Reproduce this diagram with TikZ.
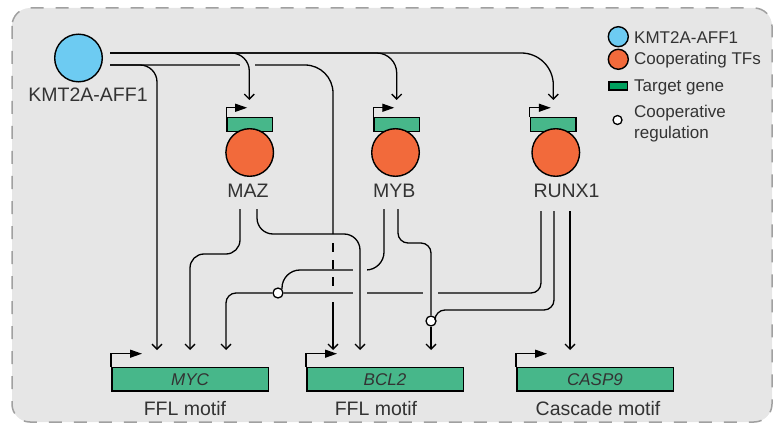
\documentclass[tikz,border=0pt]{standalone}
\usepackage{fontspec}
\setmainfont{Liberation Sans}
\usetikzlibrary{arrows.meta}

\definecolor{fond}{HTML}{E6E6E6}
\definecolor{bord}{HTML}{A0A0A0}
\definecolor{bleuK}{HTML}{6DCBF2}
\definecolor{orangeTF}{HTML}{F26A3B}
\definecolor{vertG}{HTML}{47B78A}
\definecolor{vertL}{HTML}{00A05E}
\definecolor{texte}{HTML}{333333}

\newcommand{\fontA}{\fontsize{19.5}{22}\selectfont}
\newcommand{\fontB}{\fontsize{17}{20}\selectfont}

\begin{document}
\begin{tikzpicture}[x=1pt,y=-1pt,
  fil/.style={line width=1.3pt},
  fleche/.style={fil,-{Straight Barb[length=5pt,width=10pt]}},
  promoteur/.style={line width=1.3pt,-{Triangle[length=12pt,width=8pt]}},
  cercle/.style={circle,draw,line width=1.4pt,inner sep=0pt,minimum size=47.6pt},
  boite/.style={draw,line width=1.5pt,fill=vertG,inner sep=0pt},
  coop/.style={circle,draw,line width=1.3pt,fill=white,inner sep=0pt,minimum size=10pt},
  etiq/.style={font=\fontA,text=texte,inner sep=0pt},
  legende/.style={font=\fontB,text=texte,inner sep=0pt,anchor=base west}]

\useasboundingbox (0,0) rectangle (774,425);

% Cadre
\draw[line width=1.5pt,draw=bord,dash pattern=on 13pt off 12pt,fill=fond,rounded corners=18pt]
(12,8) rectangle (772,422);

% KMT2A-AFF1
\node[cercle,fill=bleuK] (kmt) at (78.5,58) {};
\node[etiq,anchor=base] (kmtl) at (88,101.7) {KMT2A-AFF1};

% Facteurs cooperants
\foreach \n/\t/\xb/\xc in {maz/MAZ/249.7/249.7,myb/MYB/396.8/395.5,runx/RUNX1/553.3/555.8}
{
    \node[boite,minimum width=45.5pt,minimum height=14pt] (\n-g) at (\xb,124.5) {};
    \draw[promoteur] (\n-g.north west) -- ++(0,-9) -- ++(21,0);
    \node[cercle,fill=orangeTF] (\n) at (\xc,152.5) {};
    \node[etiq,anchor=base west] (\n-l) at (\xc-22.5,197.3) {\t};
}

% Genes cibles
\node[boite,minimum width=156.5pt,minimum height=23.5pt,font=\fontB\itshape,text=texte] (myc) at (190,379.2) {MYC};
\node[boite,minimum width=156.5pt,minimum height=23.5pt,font=\fontB\itshape,text=texte] (bcl) at (385,379.2) {BCL2};
\node[boite,minimum width=156.5pt,minimum height=23.5pt,font=\fontB\itshape,text=texte] (casp) at (595,379.2) {CASP9};

\foreach \g in {myc,bcl,casp}
{
    \draw[promoteur] (\g.north west) -- ++(0,-13) -- ++(31,0);
}

\node[etiq,anchor=base] (myc-m) at (185,415) {FFL motif};
\node[etiq,anchor=base] (bcl-m) at (376,415) {FFL motif};
\node[etiq,anchor=base] (casp-m) at (598,415) {Cascade motif};

% Points de depart et d'arrivee
\coordinate (k1) at (110,53);
\coordinate (k2) at (110,65);
\coordinate (maz-in) at (249.3,100);
\coordinate (myb-in) at (396.7,100);
\coordinate (runx-in) at (553.3,100);
\coordinate (myc-in1) at (157,350);
\coordinate (myc-in2) at (190,350);
\coordinate (myc-in3) at (226,350);
\coordinate (bcl-in1) at (333,350);
\coordinate (bcl-in2) at (360,350);
\coordinate (bcl-in3) at (431,350);
\coordinate (casp-in) at (570,350);
\coordinate (maz-o1) at (240,209);
\coordinate (maz-o2) at (257,209);
\coordinate (myb-o1) at (384,209);
\coordinate (myb-o2) at (398,209);
\coordinate (runx-o1) at (541,211);
\coordinate (runx-o2) at (554,211);
\coordinate (runx-o3) at (570,211);
\coordinate (d1) at (333,234);
\coordinate (d2) at (333,243);
\coordinate (d3) at (333,287);
\coordinate (d4) at (333,302);

% Regulation cooperative
\node[coop] (coop1) at (278,293) {};
\node[coop] (coop2) at (431,321) {};

% KMT2A-AFF1 -> cibles
\draw[fleche,rounded corners=17] (k2) -| (myc-in1);
\draw[fil,rounded corners=28] (k2) -| (d1);
\draw[fil,dash pattern=on 9pt off 8pt] (d2) -- (d3);
\draw[fleche] (d4) -- (bcl-in1);
\fill[fond] (240,60) rectangle (255,70);
\draw[fleche,rounded corners=18] (k1) -| (maz-in);
\draw[fleche,rounded corners=20] (k1) -| (myb-in);
\draw[fleche,rounded corners=32] (k1) -| (runx-in);

% MAZ -> MYC
\draw[fleche,rounded corners=14] (maz-o1) |- (myc-in2 |- 0,254) -- (myc-in2);

% MYB et RUNX1 -> MYC
\draw[fil] (myb-o1) [rounded corners=18] |- (coop1.45 |- 0,270) [rounded corners=6] -- (coop1.45);
\draw[fil,rounded corners=10] (runx-o1) |- (coop1);
\draw[fleche,rounded corners=10] (coop1) -| (myc-in3);

% Ponts
\fill[fond] (353,265) rectangle (367,275);
\fill[fond] (353,288) rectangle (367,298);
\fill[fond] (423,288) rectangle (438,298);

% MAZ, MYB et RUNX1 -> BCL2
\draw[fleche,rounded corners=16] (maz-o2) |- (bcl-in2 |- 0,234) -- (bcl-in2);
\draw[fil,rounded corners=10] (myb-o2) |- (bcl-in3 |- 0,243) -- (coop2);
\draw[fil] (runx-o2) [rounded corners=10] |- (coop2.45 |- 0,310) [rounded corners=6] -- (coop2.45);
\draw[fleche] (coop2) -- (bcl-in3);

% RUNX1 -> CASP9
\draw[fleche] (runx-o3) -- (casp-in);

% Legende
\node[cercle,fill=bleuK,minimum size=20pt] (leg-k) at (618.3,36.7) {};
\node[cercle,fill=orangeTF,minimum size=20pt] (leg-t) at (618.3,59.3) {};
\node[boite,fill=vertL,minimum width=18.5pt,minimum height=8pt] (leg-g) at (618.3,86.2) {};
\node[coop,minimum size=9pt] (leg-c) at (617.5,120) {};

\node[legende] (leg-kt) at (634,43.3) {KMT2A-AFF1};
\node[legende] (leg-tt) at (634,65) {Cooperating TFs};
\node[legende] (leg-gt) at (634,91.7) {Target gene};
\node[legende] (leg-c1) at (634,118) {Cooperative};
\node[legende] (leg-c2) at (634,138.3) {regulation};

\end{tikzpicture}
\end{document}
